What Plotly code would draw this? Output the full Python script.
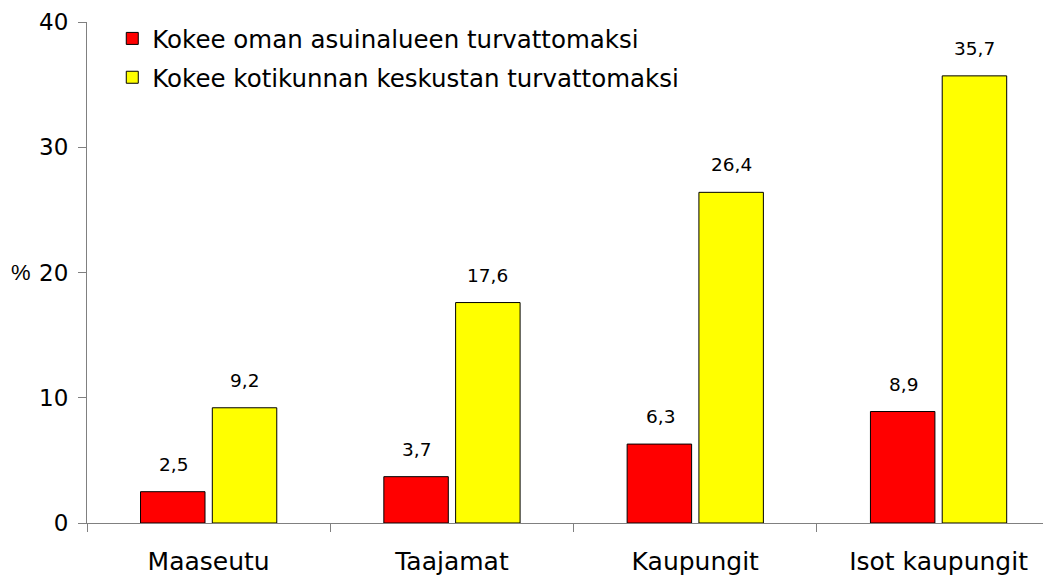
import plotly.graph_objects as go

categories = ["Maaseutu", "Taajamat", "Kaupungit", "Isot kaupungit"]
asuinalue = [2.5, 3.7, 6.3, 8.9]
keskusta = [9.2, 17.6, 26.4, 35.7]
series_names = ["Kokee oman asuinalueen turvattomaksi",
                "Kokee kotikunnan keskustan turvattomaksi"]
y_ticks = [0, 10, 20, 30, 40]

font = "DejaVu Sans, Verdana, sans-serif"

fig = go.Figure()
fig.add_trace(go.Bar(x=categories, y=asuinalue, name=series_names[0], legendgroup="a",
                     marker=dict(color="#FF0000", line=dict(color="black", width=1)),
                     width=0.265, offset=-0.28))
fig.add_trace(go.Bar(x=categories, y=keskusta, name=series_names[1], legendgroup="b",
                     marker=dict(color="#FFFF00", line=dict(color="black", width=1)),
                     width=0.265, offset=0.015))

# value labels above the bars
for vals, shift in [(asuinalue, -35), (keskusta, 36)]:
    for c, v in zip(categories, vals):
        fig.add_annotation(x=c, y=v, text=f"{v:.1f}".replace(".", ","),
                           showarrow=False, xshift=shift, yshift=15, yanchor="bottom",
                           font=dict(size=18.5, color="black", family=font))

# "%" axis title sits just left of the 20 tick label
fig.add_annotation(xref="paper", yref="y", x=-0.0813, y=20, text="%", showarrow=False,
                   xanchor="left", xshift=1,
                   font=dict(size=22, color="black", family="Liberation Sans, Arial"))

# the page body adds an 8px offset, so margins are reduced by 8
fig.update_layout(
    width=1051, height=580,
    margin=dict(l=79, r=0, t=14, b=65, autoexpand=False),
    plot_bgcolor="white", paper_bgcolor="white",
    font=dict(family=font, color="black"),
    barmode="group",
    showlegend=True,
    legend=dict(x=0.026, y=1.012, xanchor="left", yanchor="top",
                font=dict(size=24.5, family=font), bgcolor="rgba(0,0,0,0)",
                tracegroupgap=4, itemwidth=30),
    xaxis=dict(range=[-0.5, 3.495], showline=True, linecolor="#808080", linewidth=1,
               ticks="outside", tickson="boundaries", ticklen=8, tickcolor="#808080",
               tickfont=dict(size=25, family=font), showgrid=False, fixedrange=True,
               automargin=False, ticklabelstandoff=16),
    yaxis=dict(range=[0, 40], tickvals=y_ticks, showline=True, linecolor="#808080",
               linewidth=1, ticks="outside", ticklen=8, tickcolor="#808080",
               tickfont=dict(size=23, family=font), showgrid=False, zeroline=False,
               ticklabelstandoff=5, automargin=False),
)

fig.write_html("out.html")
